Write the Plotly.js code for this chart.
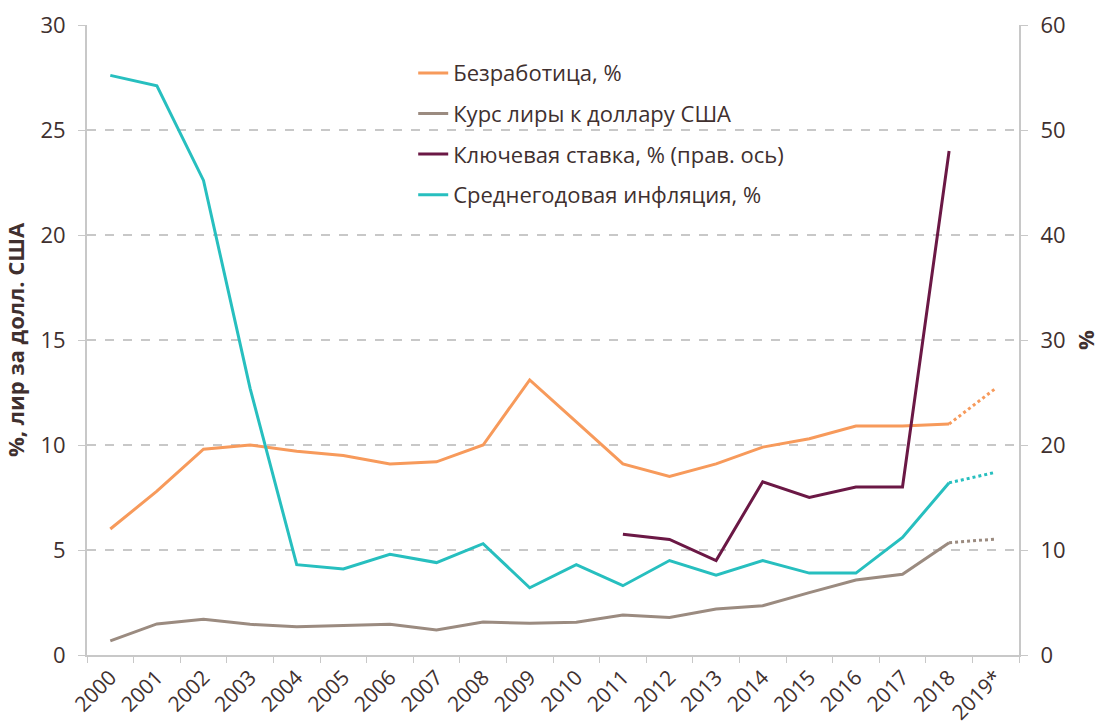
<!DOCTYPE html>
<html>
<head>
<meta charset="utf-8">
<script src="https://cdn.plot.ly/plotly-3.0.1.min.js"></script>
<style>html,body{margin:0;padding:0;background:#fff;}#chart{width:1100px;height:726px;}</style>
</head>
<body>
<div id="chart"></div>
<script>
const years = ["2000","2001","2002","2003","2004","2005","2006","2007","2008","2009","2010","2011","2012","2013","2014","2015","2016","2017","2018"];
const forecastYears = ["2018","2019*"];
const allYears = years.concat(["2019*"]);

const unemployment = [6.0,7.8,9.8,10.0,9.7,9.5,9.1,9.2,10.0,13.1,11.1,9.1,8.5,9.1,9.9,10.3,10.9,10.9,11.0];
const unemploymentForecast = [11.0,12.7];

const lira = [0.67,1.48,1.70,1.46,1.35,1.40,1.46,1.19,1.57,1.51,1.56,1.90,1.79,2.19,2.35,2.97,3.57,3.84,5.35];
const liraForecast = [5.35,5.52];

const keyRateYears = ["2011","2012","2013","2014","2015","2016","2017","2018"];
const keyRate = [11.5,11.0,9.0,16.5,15.0,16.0,16.0,48.0];

const inflation = [27.6,27.1,22.6,12.7,4.3,4.1,4.8,4.4,5.3,3.2,4.3,3.3,4.5,3.8,4.5,3.9,3.9,5.6,8.2];
const inflationForecast = [8.2,8.7];

const cOrange = "#f79a5b", cGray = "#9b8b80", cMaroon = "#6b1845", cTeal = "#27bfbf";
const txt = "#40302f";
const font = "Open Sans, sans-serif";

const traces = [
  {x: years, y: unemployment, name: "Безработица, %", legendgroup: "a", type: "scatter", mode: "lines", line: {color: cOrange, width: 3}},
  {x: years, y: lira, name: "Курс лиры к доллару США", legendgroup: "b", type: "scatter", mode: "lines", line: {color: cGray, width: 3}},
  {x: keyRateYears, y: keyRate, name: "Ключевая ставка, % (прав. ось)", legendgroup: "c", type: "scatter", mode: "lines", yaxis: "y2", line: {color: cMaroon, width: 3}},
  {x: years, y: inflation, name: "Среднегодовая инфляция, %", legendgroup: "d", type: "scatter", mode: "lines", line: {color: cTeal, width: 3}},
  {x: forecastYears, y: unemploymentForecast, legendgroup: "a", showlegend: false, type: "scatter", mode: "lines", line: {color: cOrange, width: 3, dash: "dot"}},
  {x: forecastYears, y: liraForecast, legendgroup: "b", showlegend: false, type: "scatter", mode: "lines", line: {color: cGray, width: 3, dash: "dot"}},
  {x: forecastYears, y: inflationForecast, legendgroup: "d", showlegend: false, type: "scatter", mode: "lines", line: {color: cTeal, width: 3, dash: "dot"}}
];

const layout = {
  width: 1100, height: 726,
  margin: {l: 87, r: 81, t: 25, b: 71},
  paper_bgcolor: "#fff", plot_bgcolor: "#fff",
  font: {family: font, color: txt, size: 20},
  showlegend: true,
  legend: {x: 0.35, y: 0.957, xanchor: "left", yanchor: "top", bgcolor: "rgba(0,0,0,0)", font: {size: 22, color: txt}, tracegroupgap: 9, itemwidth: 30, traceorder: "grouped"},
  xaxis: {
    type: "category", categoryorder: "array", categoryarray: allYears,
    range: [-0.5, 19.5],
    tickson: "boundaries", ticks: "outside", ticklen: 6, tickcolor: "#c8c8c8",
    tickangle: -45, tickfont: {size: 21, color: txt},
    showline: true, linecolor: "#c8c8c8", linewidth: 2,
    showgrid: false, zeroline: false
  },
  yaxis: {
    range: [0, 30], dtick: 5, tick0: 0,
    showgrid: true, gridcolor: "#c8c8c8", griddash: "dash", gridwidth: 1.3,
    showline: true, linecolor: "#c8c8c8", linewidth: 2,
    ticks: "outside", ticklen: 7, tickcolor: "#c8c8c8", ticklabelstandoff: 8,
    tickfont: {size: 22, color: txt}, zeroline: false,
    title: {text: "%, лир за долл. США", font: {size: 22, color: txt, weight: "bold"}, standoff: 10}
  },
  yaxis2: {
    overlaying: "y", side: "right", range: [0, 60], dtick: 10, tick0: 0,
    showgrid: false, showline: true, linecolor: "#c8c8c8", linewidth: 2,
    ticks: "outside", ticklen: 7, tickcolor: "#c8c8c8", ticklabelstandoff: 8,
    tickfont: {size: 22, color: txt}, zeroline: false,
    title: {text: "%", font: {size: 22, color: txt, weight: "bold"}, standoff: 16}
  }
};

Plotly.newPlot("chart", traces, layout, {displayModeBar: false, staticPlot: true});
</script>
</body>
</html>
